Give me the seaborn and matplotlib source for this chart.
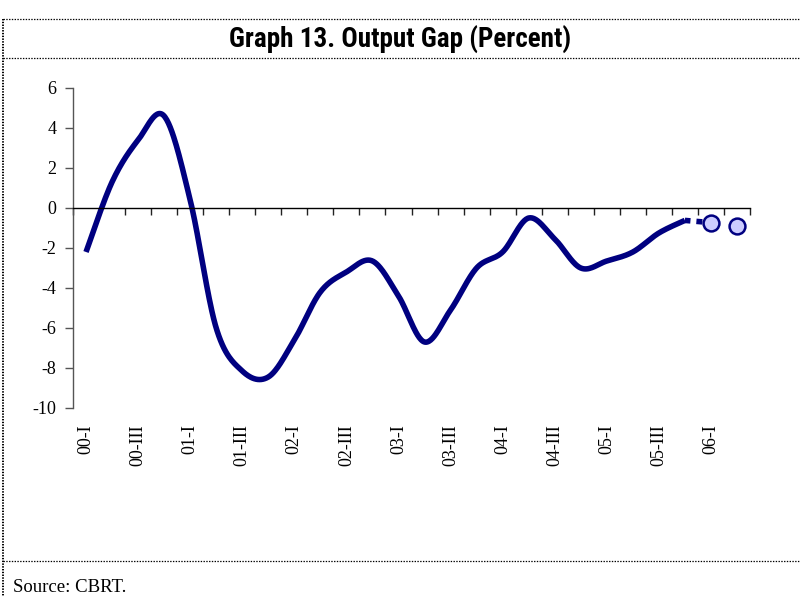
import numpy as np
import pandas as pd
import seaborn as sns
import matplotlib.pyplot as plt
import matplotlib.transforms as mtransforms
from matplotlib.lines import Line2D
from matplotlib import font_manager

# Quarters 2000-I .. 2006-II
quarters = ['00-I', '00-II', '00-III', '00-IV',
            '01-I', '01-II', '01-III', '01-IV',
            '02-I', '02-II', '02-III', '02-IV',
            '03-I', '03-II', '03-III', '03-IV',
            '04-I', '04-II', '04-III', '04-IV',
            '05-I', '05-II', '05-III', '05-IV',
            '06-I', '06-II']

# Output gap estimates (00-I .. 05-IV)
output_gap = [-2.2, 1.3, 3.4, 4.6,
              0.4, -6.0, -8.15, -8.45,
              -6.6, -4.2, -3.2, -2.65,
              -4.4, -6.7, -5.1, -3.0,
              -2.2, -0.5, -1.55, -3.0,
              -2.65, -2.2, -1.25, -0.62]

# Forecasts (06-I, 06-II)
forecast = [-0.73, -0.9]

NAVY = '#000080'
MARKER_FACE = '#CCCCFF'

sns.set_theme(style="white")
plt.rcParams['axes.unicode_minus'] = False
plt.rcParams['lines.scale_dashes'] = False
plt.rcParams['text.color'] = 'black'
plt.rcParams['font.family'] = ['Liberation Serif', 'DejaVu Serif']

available = {f.name for f in font_manager.fontManager.ttflist}
title_family = 'Liberation Sans'
title_size = 16.5
for cand in ['Liberation Sans Narrow', 'DejaVu Sans Condensed', 'Roboto Condensed']:
    if cand in available:
        title_family = cand
        title_size = 19.5
        break


def excel_smooth(xs, ys, steps=30):
    """Smoothed line like a spreadsheet 'smoothed line' (Bezier, tension 1/6)."""
    xs = np.asarray(xs, float)
    ys = np.asarray(ys, float)
    n = len(xs)
    px, py = [], []
    for i in range(n - 1):
        x0, y0 = xs[i], ys[i]
        x3, y3 = xs[i + 1], ys[i + 1]
        xm, ym = (xs[i - 1], ys[i - 1]) if i > 0 else (x0, y0)
        xp, yp = (xs[i + 2], ys[i + 2]) if i + 2 < n else (x3, y3)
        x1, y1 = x0 + (x3 - xm) / 6, y0 + (y3 - ym) / 6
        x2, y2 = x3 - (xp - x0) / 6, y3 - (yp - y0) / 6
        t = np.linspace(0, 1, steps, endpoint=(i == n - 2))
        a, b, c, d = (1 - t) ** 3, 3 * (1 - t) ** 2 * t, 3 * (1 - t) * t ** 2, t ** 3
        px.extend(a * x0 + b * x1 + c * x2 + d * x3)
        py.extend(a * y0 + b * y1 + c * y2 + d * y3)
    return np.array(px), np.array(py)


fig = plt.figure(figsize=(8, 5.96), dpi=100)
ax = fig.add_axes([73 / 800, 1 - 408 / 596, 677 / 800, 320 / 596])

# Smoothed output gap line
idx = np.arange(len(output_gap))
sx, sy = excel_smooth(idx, output_gap)
smooth_df = pd.DataFrame({'x': sx, 'y': sy})
sns.lineplot(data=smooth_df, x='x', y='y', sort=False, estimator=None,
             color=NAVY, linewidth=4.0, ax=ax)
ax.lines[-1].set_solid_capstyle('butt')

# Forecast: dashed link and circle markers
fc_idx = np.arange(len(output_gap), len(output_gap) + len(forecast))
ax.plot([idx[-1], fc_idx[0]], [output_gap[-1], forecast[0]], color=NAVY,
        linewidth=4.0, linestyle=(0, (4.0, 4.3, 4.3, 30)), dash_capstyle='butt')
fc_df = pd.DataFrame({'x': fc_idx, 'y': forecast})
sns.scatterplot(data=fc_df, x='x', y='y', s=130, color=MARKER_FACE,
                edgecolor=NAVY, linewidth=1.8, zorder=5, ax=ax)

# Axes styling
ax.set_xlim(-0.5, len(quarters) - 0.5)
ax.set_ylim(-10, 6)
ax.set_yticks(np.arange(-10, 7, 2))
ax.set_yticklabels([str(v) for v in range(-10, 7, 2)])
ax.set_xticks(np.arange(-0.5, len(quarters), 1))
ax.set_xticklabels([])
ax.set_xlabel('')
ax.set_ylabel('')
ax.spines['top'].set_visible(False)
ax.spines['right'].set_visible(False)
ax.spines['bottom'].set_position(('data', 0))
ax.spines['bottom'].set_color('#000000')
ax.spines['bottom'].set_linewidth(1.0)
ax.spines['left'].set_color('#555555')
ax.spines['left'].set_linewidth(1.0)
ax.tick_params(axis='x', bottom=True, direction='out', length=5, width=1.0,
               color='#222222')
ax.tick_params(axis='y', left=True, direction='out', length=6, width=1.0,
               color='#555555', labelcolor='black', labelsize=13, pad=6)
ax.grid(False)

# Category labels every second quarter, below the plot area
trans = mtransforms.blended_transform_factory(ax.transData, ax.transAxes)
for i, q in enumerate(quarters):
    if i % 2 == 0:
        ax.text(i, -0.05, q, rotation=90, ha='center', va='top',
                fontsize=13, color='black', transform=trans)

# Title, frame and source
fig.text(0.5, 1 - 40 / 596, 'Graph 13. Output Gap (Percent)', ha='center', va='center',
         fontsize=title_size, fontweight='bold', family=title_family, color='black')
for yy in (19, 58, 561):
    fig.add_artist(Line2D([3 / 800, 1], [1 - yy / 596] * 2, transform=fig.transFigure,
                          color='black', linewidth=0.9, linestyle=(0, (1, 1))))
fig.add_artist(Line2D([3 / 800] * 2, [1 - 19 / 596, 0], transform=fig.transFigure,
                      color='black', linewidth=1.4, linestyle=(0, (1, 1))))
fig.text(13 / 800, 1 - 588 / 596, 'Source: CBRT.', ha='left', va='center',
         fontsize=13.5, color='black')

plt.savefig('out.png', dpi=100, facecolor='white')
